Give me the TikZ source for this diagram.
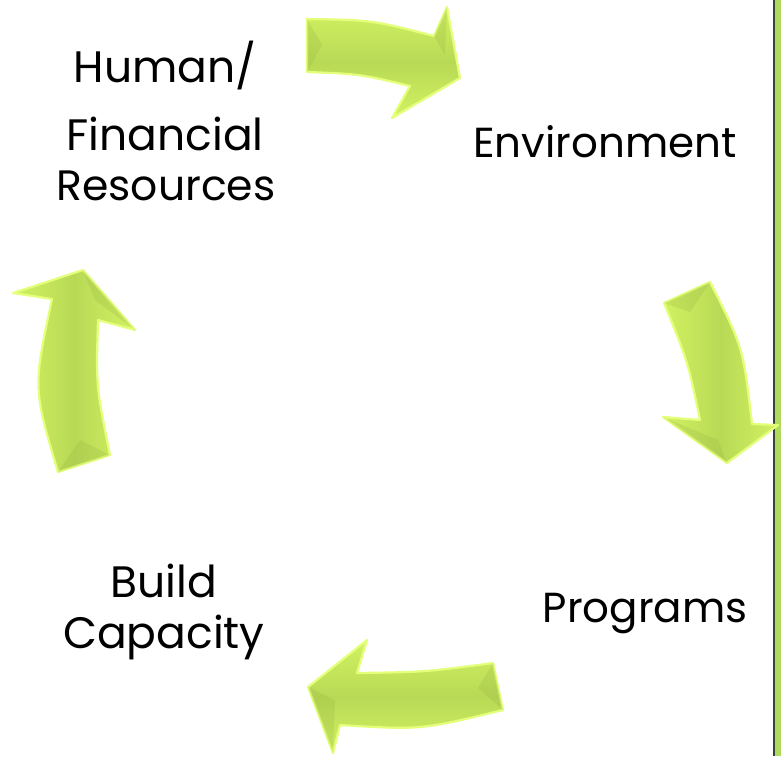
\documentclass[tikz,border=0pt]{standalone}
\usepackage{fontspec}
\setmainfont{Poppins}
\begin{document}
\begin{tikzpicture}[x=1pt,y=-1pt,
  lbl/.style={anchor=base,inner sep=0pt,text=black},
  cyclearrow/.style={draw=glow,line width=2.2pt,line join=round,
     top color=armlight,bottom color=armlight,middle color=armdark,shading angle=#1},
  bevel/.style={fill=armdark!80!black,fill opacity=0.22,draw=none}]
\definecolor{armlight}{HTML}{D2F262}
\definecolor{armdark}{HTML}{B8D955}
\definecolor{glow}{HTML}{E4FF7A}
\definecolor{barfill}{HTML}{B0DA5C}
\definecolor{barline}{HTML}{3A3F3A}
\useasboundingbox (0,0) rectangle (781,756);
\fill[white] (0,0) rectangle (781,756);
% right side bar
\fill[barfill] (773.5,0) rectangle (781,756);
\draw[barline,line width=2pt] (773.5,0) -- (773.5,756);
% top arrow
\path[cyclearrow=0] (307,19) .. controls (372,20) .. (434,36) -- (447,7) -- (460,78) -- (392,118) -- (410,86) .. controls (360,74) .. (307,72) -- cycle;
\path[bevel] (307,19) -- (322,45) -- (307,72) -- cycle;
\path[bevel] (434,36) -- (447,7) -- (445,55) -- cycle;
% right arrow
\path[cyclearrow=90] (664,303) -- (710,282) .. controls (743,347) .. (752,424) -- (778,425) -- (727,463) -- (663,417) -- (700,420) .. controls (688,362) .. (664,303) -- cycle;
\path[bevel] (664,303) -- (710,282) -- (690,312) -- cycle;
\path[bevel] (663,417) -- (727,463) -- (718,440) -- cycle;
% bottom arrow
\path[cyclearrow=0] (493,663) -- (503,710) .. controls (421,730) .. (340,725) -- (333,753) -- (308,687) -- (367,640) -- (357,673) .. controls (425,672) .. (493,663) -- cycle;
\path[bevel] (493,663) -- (503,710) -- (478,688) -- cycle;
\path[bevel] (308,687) -- (333,753) -- (335,700) -- cycle;
% left arrow
\path[cyclearrow=90] (58,472) -- (110,455) .. controls (96,386) .. (98,320) -- (135,330) -- (83,270) -- (13,293) -- (52,299) .. controls (33,388) .. (58,472) -- cycle;
\path[bevel] (58,472) -- (110,455) -- (80,440) -- cycle;
\path[bevel] (83,270) -- (135,330) -- (95,300) -- cycle;
% labels
\node[lbl,font=\fontsize{44}{44}\selectfont] (hum) at (165,82) {Human/};
\node[lbl,font=\fontsize{44}{44}\selectfont] (fin) at (165,150) {Financial};
\node[lbl,font=\fontsize{42.5}{42.5}\selectfont] (res) at (166,200) {Resources};
\node[lbl,font=\fontsize{42}{42}\selectfont] (env) at (605,157) {Environment};
\node[lbl,font=\fontsize{42}{42}\selectfont] (prog) at (645,622) {Programs};
\node[lbl,font=\fontsize{44}{44}\selectfont] (bld) at (164,597) {Build};
\node[lbl,font=\fontsize{44}{44}\selectfont] (cap) at (164,648) {Capacity};
\end{tikzpicture}
\end{document}
